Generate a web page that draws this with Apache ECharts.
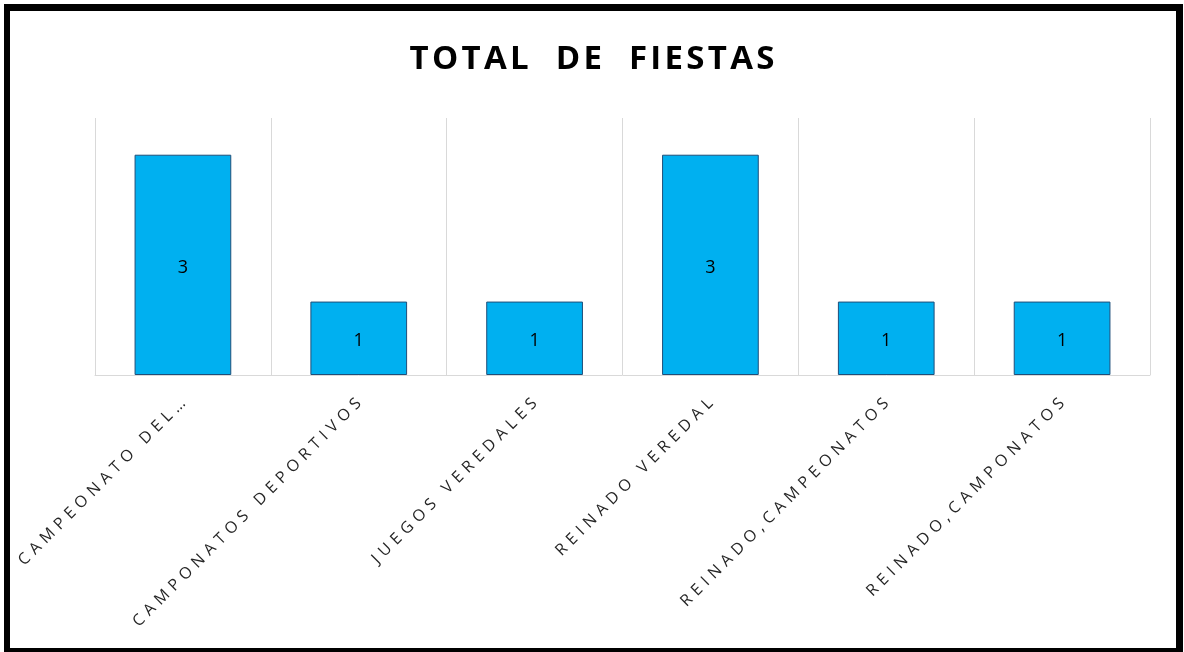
<!DOCTYPE html>
<html>
<head>
<meta charset="utf-8">
<title>Total de fiestas</title>
<script src="https://cdn.jsdelivr.net/npm/echarts@6/dist/echarts.min.js"></script>
<style>
  html, body { margin: 0; padding: 0; background: #fff; }
  #chart { position: absolute; left: 0; top: 0; width: 1184px; height: 652px; }
  /* black frame around the chart, as in the screenshot */
  #frame {
    position: absolute; left: 4px; top: 4px; width: 1166px; height: 637px;
    border-left: 6px solid #000; border-top: 7px solid #000;
    border-right: 7px solid #000; border-bottom: 4px solid #000;
    pointer-events: none;
  }
</style>
</head>
<body>
<div id="chart"></div>
<div id="frame"></div>
<script>
// chart data
const titleText = 'TOTAL  DE  FIESTAS';
const categories = [
  'CAMPEONATO DEL...',
  'CAMPONATOS DEPORTIVOS',
  'JUEGOS VEREDALES',
  'REINADO VEREDAL',
  'REINADO,CAMPEONATOS',
  'REINADO,CAMPONATOS'
];
const values = [3, 1, 1, 3, 1, 1];

// Excel-style expanded character spacing (dots of an ellipsis stay together)
const spaced = (str, gap) => {
  let out = '';
  for (let i = 0; i < str.length; i++) {
    out += str[i];
    const next = str[i + 1];
    if (next && !(str[i] === '.' && next === '.')) out += gap;
  }
  return out;
};

const chart = echarts.init(document.getElementById('chart'));

const option = {
  animation: false,
  title: {
    text: spaced(titleText, '\u200A'),
    left: 'center',
    top: 38,
    textStyle: {
      fontFamily: 'Open Sans',
      fontWeight: 'bold',
      fontSize: 33,
      color: '#000'
    }
  },
  grid: {
    left: 95,
    right: 34,
    top: 118,
    bottom: 277,
    containLabel: false
  },
  xAxis: {
    type: 'category',
    data: categories,
    axisLine: { show: true, lineStyle: { color: '#d9d9d9', width: 1 } },
    axisTick: { show: false },
    splitLine: { show: true, lineStyle: { color: '#d9d9d9', width: 1 } },
    axisLabel: {
      interval: 0,
      rotate: 45,
      margin: 26,
      fontFamily: 'Open Sans',
      fontSize: 16,
      color: '#262626',
      formatter: (val) => spaced(val, '\u2009\u2009')
    }
  },
  yAxis: {
    type: 'value',
    min: 0,
    max: 3.5,
    show: false,
    splitLine: { show: false }
  },
  series: [{
    type: 'bar',
    data: values,
    barWidth: '55%',
    itemStyle: {
      color: '#00b0f0',
      borderColor: '#1f4e79',
      borderWidth: 1
    },
    label: {
      show: true,
      position: 'inside',
      offset: [0, 3],
      fontFamily: 'Open Sans',
      fontSize: 18,
      color: '#000'
    }
  }]
};

chart.setOption(option);
</script>
</body>
</html>
